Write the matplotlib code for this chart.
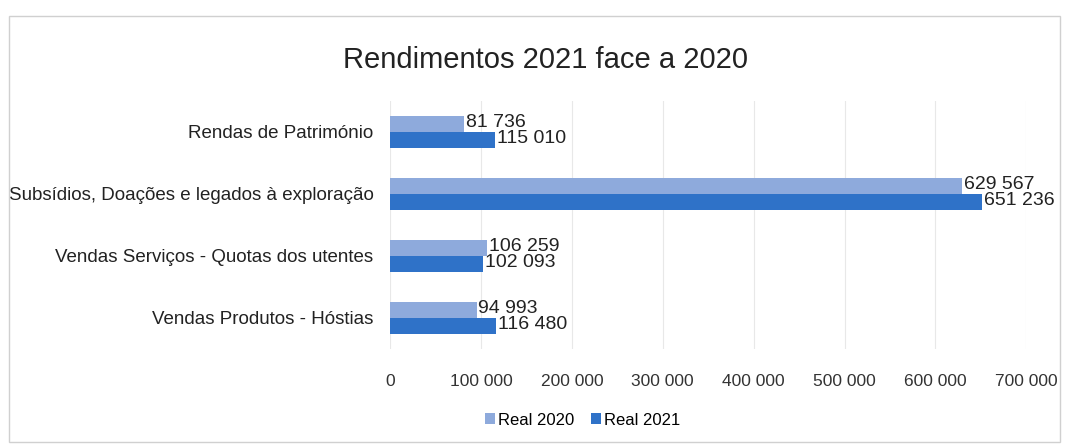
import matplotlib.pyplot as plt
from matplotlib.patches import Rectangle

categorias = ['Vendas Produtos - Hóstias',
              'Vendas Serviços - Quotas dos utentes',
              'Subsídios, Doações e legados à exploração',
              'Rendas de Património']
real_2020 = [94993, 106259, 629567, 81736]
real_2021 = [116480, 102093, 651236, 115010]
ticks = [0, 100000, 200000, 300000, 400000, 500000, 600000, 700000]

cor_2020 = '#8eaadc'
cor_2021 = '#2f72c8'

def fmt(v):
    return f'{v:,}'.replace(',', ' ')

plt.rcParams['font.family'] = ['Liberation Sans', 'DejaVu Sans']

fig = plt.figure(figsize=(10.69, 4.46), dpi=100)
fig.patches.append(Rectangle((0.008, 0.01), 0.984, 0.955, transform=fig.transFigure,
                             fill=False, edgecolor='#d0d0d0', linewidth=1))
ax = fig.add_axes([0.365, 0.218, 0.595, 0.556])

y = range(len(categorias))
h = 0.26
b20 = ax.barh([i + h / 2 for i in y], real_2020, height=h, color=cor_2020, label='Real 2020')
b21 = ax.barh([i - h / 2 for i in y], real_2021, height=h, color=cor_2021, label='Real 2021')

for bars, vals in [(b20, real_2020), (b21, real_2021)]:
    for bar, v in zip(bars, vals):
        ax.text(bar.get_width() + 2000, bar.get_y() + bar.get_height() / 2 + 0.02, fmt(v),
                va='center', ha='left', fontsize=14, color='#222222')

ax.set_xlim(0, 700000)
ax.set_ylim(-0.5, 3.5)
ax.set_xticks(ticks)
ax.set_xticklabels([fmt(t) for t in ticks], fontsize=12.5, color='#333333')
ax.set_yticks(list(y))
ax.set_yticklabels(categorias, fontsize=13.5, color='#222222')
ax.tick_params(axis='both', length=0)
ax.tick_params(axis='x', pad=18)
ax.tick_params(axis='y', pad=12)
ax.grid(axis='x', color='#e8e8e8', linewidth=0.8)
ax.set_axisbelow(True)
for s in ax.spines.values():
    s.set_visible(False)

fig.text(0.51, 0.865, 'Rendimentos 2021 face a 2020', ha='center', va='center',
         fontsize=21, color='#222222')
fig.legend(handles=[b20, b21], loc='center', bbox_to_anchor=(0.545, 0.058), ncol=2,
           frameon=False, fontsize=12, handlelength=0.6, handleheight=0.6,
           handletextpad=0.2, columnspacing=1.0)

fig.savefig('out.png', dpi=100, facecolor='white')
